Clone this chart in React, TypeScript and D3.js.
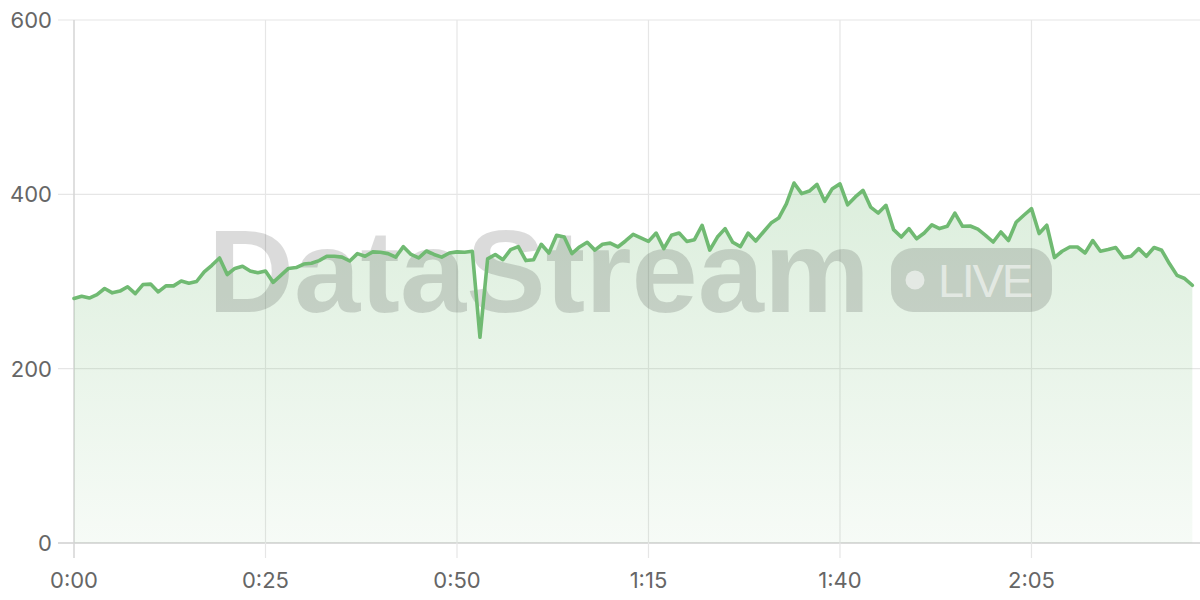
import React from "react";
import * as d3 from "d3";

const seconds: number[] = Array.from({ length: 147 }, (_, i) => i);
const values: number[] = [
  280.5, 283, 281, 285, 292, 287, 289, 294, 286, 296.5,
  297, 288, 295, 295, 300.6, 298, 300, 311, 318.6, 327,
  308, 315, 317.5, 312, 310, 312, 299, 307, 315, 316,
  320, 321, 324, 329, 329, 328, 323.5, 332, 329, 334,
  333.5, 332, 328, 340, 331, 327, 335, 331, 328, 332.7,
  334, 333.5, 334.7, 236, 326, 331, 325, 336.6, 340, 324,
  325, 342.7, 332.7, 353, 351, 332, 339.6, 345, 336, 342.7,
  344, 339.6, 346.5, 354, 350, 346, 355.6, 337.7, 353, 355.6,
  346, 348, 364.5, 336, 351, 360.7, 345, 340, 355.6, 346.5,
  356.8, 367, 372.8, 389, 413, 400.8, 403.8, 411.4, 392, 406.5,
  412, 388, 397, 404.6, 385.4, 378.5, 387.4, 359.5, 351, 360.7,
  349, 355.6, 365, 360.7, 363.3, 378.5, 363.3, 363.7, 360, 353,
  345.3, 356.8, 347, 368, 376, 383.6, 355, 364.5, 327.4, 334.7,
  339.6, 339.6, 332.7, 347, 334.7, 336.6, 339, 327.4, 329, 337.7,
  329, 339, 335.8, 320.6, 307, 303.4, 295.7,
];
const xTicks: number[] = [0, 25, 50, 75, 100, 125];
const yTicks: number[] = [0, 200, 400, 600];
const watermarkText = "DataStream";
const badgeText = "LIVE";

const W = 1200;
const H = 600;
const left = 74;
const right = 1200;
const top = 20;
const bottom = 543;

const fmt = (v: number) => `${Math.floor(v / 60)}:${String(v % 60).padStart(2, "0")}`;

export default function App() {
  const x = d3.scaleLinear().domain([0, 147]).range([left, right]);
  const y = d3.scaleLinear().domain([0, 600]).range([bottom, top]);
  const pts = seconds.map((s, i) => [s, values[i]] as [number, number]);
  const line = d3
    .line<[number, number]>()
    .x((d) => x(d[0]))
    .y((d) => y(d[1]));
  const area = d3
    .area<[number, number]>()
    .x((d) => x(d[0]))
    .y0(y(0))
    .y1((d) => y(d[1]));
  const green = "#70ba72";
  const font = "Inter, 'Noto Sans', sans-serif";

  return (
    <div style={{ position: "fixed", left: 0, top: 0, width: W, height: H, background: "#fff" }}>
      <svg width={W} height={H} style={{ display: "block" }}>
        <defs>
          <linearGradient id="fillGrad" gradientUnits="userSpaceOnUse" x1="0" y1={y(420)} x2="0" y2={y(0)}>
            <stop offset="0" stopColor={green} stopOpacity={0.25} />
            <stop offset="1" stopColor={green} stopOpacity={0.06} />
          </linearGradient>
        </defs>
        {yTicks.map((t) => (
          <line
            key={"hy" + t}
            x1={58}
            x2={right}
            y1={y(t)}
            y2={y(t)}
            stroke={t === 0 ? "#cfcfcf" : "#e6e6e6"}
            strokeWidth={t === 0 ? 1.5 : 1.2}
          />
        ))}
        {xTicks.map((t) => (
          <line
            key={"vx" + t}
            x1={x(t)}
            x2={x(t)}
            y1={top}
            y2={558}
            stroke={t === 0 ? "#d4d4d4" : "#e6e6e6"}
            strokeWidth={t === 0 ? 1.5 : 1.2}
          />
        ))}
        <path d={area(pts) || ""} fill="url(#fillGrad)" />
        <g>
          <text
            x={208}
            y={312}
            fontFamily="'Liberation Sans', Arial, sans-serif"
            fontWeight={700}
            fontSize={117}
            fill="#000"
            fillOpacity={0.14}
            textLength={662}
            lengthAdjust="spacingAndGlyphs"
          >
            {watermarkText}
          </text>
          <rect x={891} y={248} width={161} height={64} rx={22} fill="#000" fillOpacity={0.14} />
          <circle cx={915} cy={280} r={9.5} fill="#fff" fillOpacity={0.55} />
          <text
            x={938}
            y={297}
            fontFamily="'Liberation Sans', Arial, sans-serif"
            fontWeight={400}
            fontSize={47}
            fill="#fff"
            fillOpacity={0.55}
            textLength={95}
            lengthAdjust="spacing"
          >
            {badgeText}
          </text>
        </g>
        <path
          d={line(pts) || ""}
          fill="none"
          stroke={green}
          strokeWidth={3.6}
          strokeLinejoin="round"
          strokeLinecap="round"
        />
        {yTicks.map((t) => (
          <text
            key={"yl" + t}
            x={52}
            y={y(t)}
            dy="0.36em"
            textAnchor="end"
            fontFamily={font}
            fontSize={22}
            fill="#666"
          >
            {t}
          </text>
        ))}
        {xTicks.map((t) => (
          <text
            key={"xl" + t}
            x={x(t)}
            y={588}
            textAnchor="middle"
            fontFamily={font}
            fontSize={22}
            fill="#666"
          >
            {fmt(t)}
          </text>
        ))}
      </svg>
    </div>
  );
}
